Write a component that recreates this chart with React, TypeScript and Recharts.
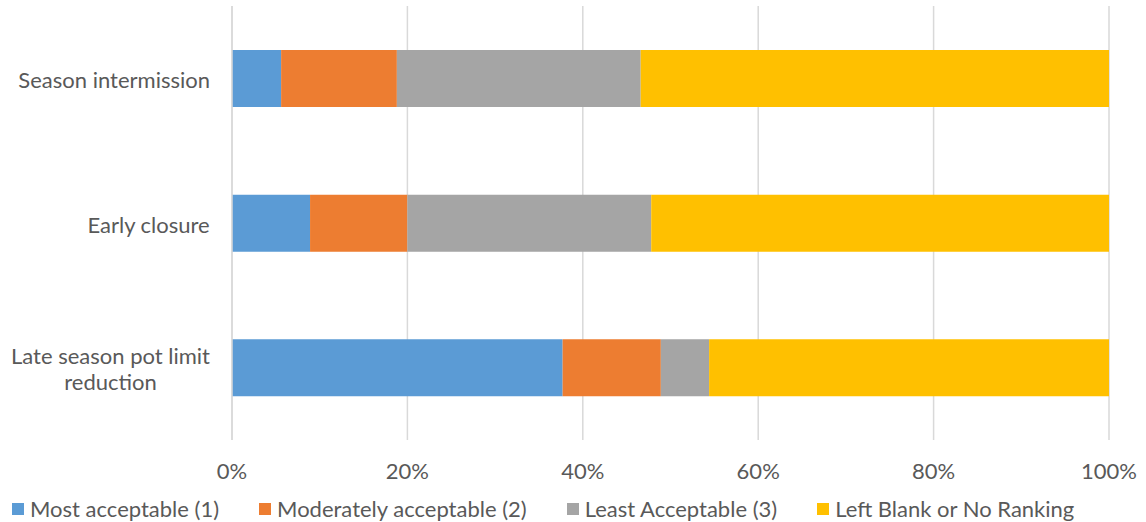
import { BarChart, Bar, XAxis, YAxis, CartesianGrid, Legend } from "recharts";

const categories = ["Season intermission", "Early closure", "Late season pot limit reduction"];
const mostAcceptable = [5.6, 8.9, 37.7];
const moderatelyAcceptable = [13.2, 11.1, 11.2];
const leastAcceptable = [27.8, 27.8, 5.5];
const leftBlank = [53.4, 52.2, 45.6];
const xTicks = [0, 20, 40, 60, 80, 100];

const SERIES = [
  { key: "most", name: "Most acceptable (1)", color: "#5B9BD5" },
  { key: "moderate", name: "Moderately acceptable (2)", color: "#ED7D31" },
  { key: "least", name: "Least Acceptable (3)", color: "#A5A5A5" },
  { key: "blank", name: "Left Blank or No Ranking", color: "#FFC000" },
];

const FONT = "Lato, 'Open Sans', sans-serif";
const FS = 22;
const TEXT = "#595959";

const data = categories.map((name, i) => ({
  name,
  most: mostAcceptable[i],
  moderate: moderatelyAcceptable[i],
  least: leastAcceptable[i],
  blank: leftBlank[i],
}));

let ctx: CanvasRenderingContext2D | null = null;
const measure = (s: string) => {
  if (!ctx) ctx = document.createElement("canvas").getContext("2d");
  if (!ctx) return s.length * 10;
  ctx.font = `${FS}px ${FONT}`;
  return ctx.measureText(s).width;
};

// wrap label into lines no wider than maxW, center lines in a right-aligned block
const CategoryTick = (props: any) => {
  const { x, y, payload } = props;
  const maxW = 205;
  const words = String(payload.value).split(" ");
  const lines: string[] = [];
  let cur = "";
  words.forEach((w) => {
    const t = cur ? cur + " " + w : w;
    if (measure(t) > maxW && cur) {
      lines.push(cur);
      cur = w;
    } else cur = t;
  });
  if (cur) lines.push(cur);
  const blockW = Math.max(...lines.map(measure));
  const right = x - 14;
  const cx = right - blockW / 2;
  const lh = 26;
  const startY = y + 2 - ((lines.length - 1) * lh) / 2;
  return (
    <text textAnchor="middle" fontFamily={FONT} fontSize={FS} fill={TEXT}>
      {lines.map((l, i) => (
        <tspan key={i} x={cx} y={startY + i * lh} dy="0.35em">
          {l}
        </tspan>
      ))}
    </text>
  );
};

const LegendContent = () => (
  <div style={{ display: "flex", gap: 40, paddingLeft: 12, fontFamily: FONT, fontSize: FS, color: TEXT }}>
    {SERIES.map((s) => (
      <div key={s.key} style={{ display: "flex", alignItems: "center" }}>
        <span style={{ width: 12, height: 12, background: s.color, marginRight: 6, display: "inline-block" }} />
        <span>{s.name}</span>
      </div>
    ))}
  </div>
);

export default function App() {
  return (
    <div style={{ position: "absolute", left: 0, top: 0, background: "#fff" }}>
      <BarChart
        width={1146}
        height={522}
        data={data}
        layout="vertical"
        margin={{ top: 6, right: 37, bottom: 0, left: 0 }}
        barSize={57}
      >
        <CartesianGrid vertical horizontal={false} stroke="#D9D9D9" strokeWidth={1.5} />
        <XAxis
          type="number"
          domain={[0, 100]}
          ticks={xTicks}
          tickFormatter={(v) => `${v}%`}
          axisLine={false}
          tickLine={false}
          tick={{ fill: TEXT, fontSize: FS, fontFamily: FONT }}
          tickMargin={17}
          height={55}
          interval={0}
        />
        <YAxis
          type="category"
          dataKey="name"
          width={232}
          axisLine={{ stroke: "#D9D9D9", strokeWidth: 1.5 }}
          tickLine={false}
          tick={<CategoryTick />}
        />
        <Legend verticalAlign="bottom" align="left" height={27} content={<LegendContent />} />
        {SERIES.map((s) => (
          <Bar key={s.key} dataKey={s.key} name={s.name} stackId="a" fill={s.color} isAnimationActive={false} />
        ))}
      </BarChart>
    </div>
  );
}
